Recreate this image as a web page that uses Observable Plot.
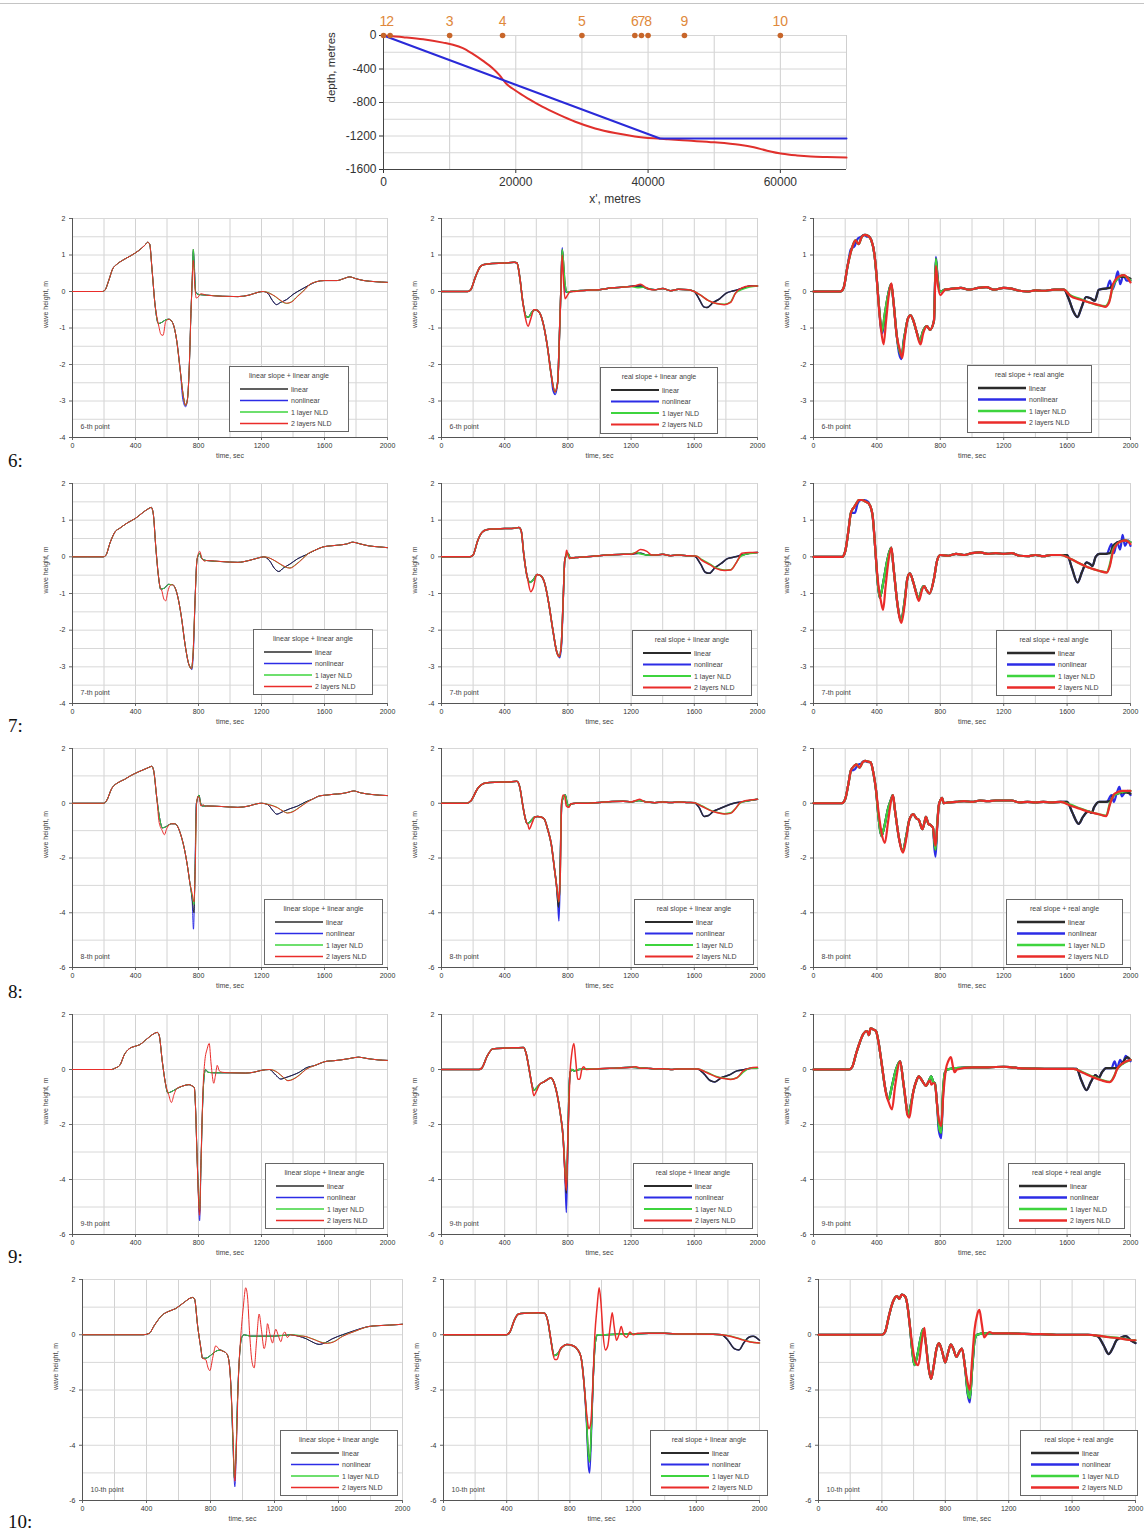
<!DOCTYPE html>
<html>
<head>
<meta charset="utf-8">
<script src="https://cdn.jsdelivr.net/npm/d3@7"></script>
<script src="https://cdn.jsdelivr.net/npm/@observablehq/plot@0.6"></script>
<style>
  html, body { margin: 0; padding: 0; background: #fff; }
  #root { position: relative; width: 1144px; height: 1535px; overflow: hidden; background: #fff; font-family: "Liberation Sans", Arial, sans-serif; }
  .rowlab { position: absolute; font-family: "Liberation Serif", "DejaVu Serif", serif; font-size: 19px; color: #111; }
</style>
</head>
<body>
<div id="root"></div>
<script>
// ---------------- DATA ----------------
// Top chart: bathymetry profiles
const profileLinearX = [0, 41800, 70000];
const profileLinearY = [0, -1230, -1230];
const profileRealX = [0, 3000, 6000, 9000, 10500, 12000, 13500, 15000, 16500, 17500, 18500, 20000, 22000, 24000, 26500, 29000, 32000, 35000, 38000, 40800, 43000, 46000, 50000, 53800, 56000, 58000, 60300, 62500, 64600, 67000, 70000];
const profileRealY = [0, -20, -45, -85, -110, -150, -220, -300, -390, -470, -570, -660, -760, -850, -945, -1030, -1110, -1165, -1205, -1228, -1240, -1255, -1275, -1305, -1335, -1375, -1412, -1432, -1445, -1452, -1458];
const gaugeX = [0, 1000, 10000, 18000, 30000, 38000, 39000, 40000, 45500, 60000];
const gaugeLabels = ["1", "2", "3", "4", "5", "6", "7", "8", "9", "10"];

// Panels: categories
const rowLabels = ["6:", "7:", "8:", "9:", "10:"];
const pointNames = ["6-th point", "7-th point", "8-th point", "9-th point", "10-th point"];
const legendTitles = ["linear slope + linear angle", "real slope + linear angle", "real slope + real angle"];
const seriesNames = ["linear", "nonlinear", "1 layer NLD", "2 layers NLD"];
const timeTicks = [0, 400, 800, 1200, 1600, 2000];

// Each panel: linear series [t, height], then segments where other series differ from it
// ---- 6-th point ----
const r6a_linear = [[0,0],[190,0],[205,0.03],[230,0.3],[255,0.62],[280,0.74],[320,0.86],[370,0.98],[420,1.12],[460,1.27],[478,1.35],[490,1.3],[505,0.6],[525,-0.4],[545,-0.88],[565,-0.85],[590,-0.78],[612,-0.76],[635,-0.85],[660,-1.3],[685,-2.2],[705,-2.9],[718,-3.12],[730,-2.95],[742,-2.0],[752,-0.6],[760,0.3],[767,1.15],[774,0.6],[782,-0.02],[800,-0.08],[850,-0.1],[950,-0.13],[1050,-0.14],[1120,-0.1],[1180,-0.02],[1210,0],[1240,-0.05],[1270,-0.25],[1295,-0.36],[1320,-0.3],[1360,-0.22],[1400,-0.08],[1450,0.05],[1500,0.17],[1550,0.27],[1600,0.3],[1680,0.3],[1720,0.35],[1760,0.4],[1800,0.35],[1850,0.3],[1920,0.27],[2000,0.25]];
const r6a_nonlinear = [[[700,-2.95],[718,-3.16],[730,-2.95]], [[760,0.3],[767,1.1],[774,0.7],[782,0.0]]];
const r6a_nld1 = [[[1210,0],[1250,-0.04],[1290,-0.15],[1330,-0.28],[1360,-0.33],[1390,-0.28],[1430,-0.12],[1480,0.08],[1500,0.17]]];
const r6a_nld2 = [[[530,-0.55],[548,-0.95],[562,-1.18],[575,-1.2],[592,-0.82]], [[760,0.3],[767,0.85],[776,0.2],[786,-0.18],[798,-0.15],[815,-0.06]], [[1210,0],[1250,-0.05],[1290,-0.14],[1330,-0.27],[1360,-0.32],[1390,-0.29],[1430,-0.13],[1480,0.07],[1500,0.17]]];

const r6b_linear = [[0,0],[165,0],[185,0.05],[215,0.4],[245,0.68],[270,0.74],[320,0.77],[400,0.78],[460,0.8],[478,0.78],[495,0.4],[515,-0.3],[535,-0.68],[550,-0.7],[575,-0.55],[595,-0.5],[620,-0.58],[645,-0.9],[670,-1.5],[695,-2.3],[718,-2.75],[735,-2.5],[748,-1.0],[756,0.1],[764,1.15],[772,0.8],[782,0.2],[795,-0.02],[820,0.0],[900,0.03],[1000,0.05],[1080,0.1],[1150,0.12],[1220,0.15],[1260,0.15],[1300,0.08],[1350,0.05],[1400,0.08],[1450,0.02],[1500,0.06],[1560,0.05],[1600,0.0],[1630,-0.2],[1660,-0.42],[1680,-0.44],[1720,-0.3],[1760,-0.2],[1800,-0.05],[1850,0.02],[1900,0.08],[1950,0.15],[2000,0.15]];
const r6b_nonlinear = [[[705,-2.7],[720,-2.82],[735,-2.5]], [[756,0.1],[764,1.2],[772,0.6],[782,0.0]]];
const r6b_nld1 = [[[1200,0.14],[1240,0.1],[1280,0.12]], [[1600,0],[1640,-0.1],[1690,-0.25],[1740,-0.33],[1790,-0.35],[1830,-0.28],[1860,-0.05],[1900,0.05],[1950,0.12]]];
const r6b_nld2 = [[[530,-0.7],[548,-0.95],[565,-0.75],[585,-0.5]], [[756,0.1],[764,1.0],[772,0.3],[782,-0.2],[795,-0.12],[815,0.0]], [[1220,0.15],[1260,0.2],[1290,0.12],[1330,0.05]], [[1600,0],[1640,-0.1],[1690,-0.25],[1740,-0.33],[1790,-0.36],[1830,-0.3],[1860,-0.05],[1900,0.1],[1950,0.15]]];

const r6c_linear = [[0,0],[170,0],[190,0.1],[215,0.7],[240,1.15],[265,1.4],[285,1.3],[305,1.5],[325,1.55],[345,1.52],[365,1.4],[385,1.0],[400,0.3],[415,-0.5],[432,-1.1],[450,-0.6],[470,-0.1],[490,0.2],[505,-0.3],[525,-1.2],[555,-1.75],[575,-1.2],[595,-0.75],[612,-0.65],[630,-0.8],[650,-1.1],[672,-1.35],[690,-1.1],[715,-0.95],[735,-1.05],[760,-0.8],[772,0.9],[782,0.4],[800,0.0],[830,0.05],[880,0.08],[930,0.1],[980,0.05],[1040,0.1],[1090,0.12],[1140,0.05],[1200,0.1],[1250,0.08],[1300,0.02],[1350,0],[1400,0.03],[1450,0.02],[1520,0.05],[1580,0.05],[1610,-0.2],[1640,-0.55],[1665,-0.7],[1690,-0.45],[1720,-0.15],[1745,-0.18],[1775,-0.25],[1800,0.05],[1840,0.08],[1870,0.1],[1900,0.25],[1930,0.4],[1970,0.4],[2000,0.35]];
const r6c_nonlinear = [[[235,1.15],[260,1.25],[280,1.45],[300,1.5],[320,1.55],[340,1.5]], [[420,-0.8],[434,-1.15],[450,-0.7]], [[540,-1.7],[555,-1.85],[570,-1.3]], [[760,-0.8],[772,0.95],[782,0.45]], [[1850,0.08],[1870,0.3],[1885,0.05],[1900,0.2],[1920,0.55],[1935,0.2],[1955,0.45],[1975,0.3],[2000,0.3]]];
const r6c_nld1 = [[[1580,0.05],[1620,-0.1],[1680,-0.2],[1740,-0.3],[1800,-0.38],[1840,-0.4],[1870,-0.2],[1890,0.15],[1920,0.35],[1950,0.45],[2000,0.3]]];
const r6c_nld2 = [[[395,0.6],[410,-0.3],[425,-1.0],[442,-1.45],[458,-0.8],[475,-0.1],[492,0.22]], [[545,-1.6],[560,-1.82],[575,-1.3]], [[655,-1.2],[675,-1.45],[692,-1.15]], [[760,-0.8],[772,0.7],[784,0.2],[800,-0.1],[820,0.0]], [[1580,0.05],[1620,-0.12],[1680,-0.22],[1740,-0.3],[1800,-0.37],[1840,-0.42],[1865,-0.3],[1890,0.2],[1930,0.42],[1960,0.45],[2000,0.25]]];

// ---- 7-th point ----
const r7a_linear = [[0,0],[195,0],[210,0.03],[240,0.4],[270,0.68],[300,0.78],[350,0.93],[400,1.05],[450,1.22],[485,1.32],[500,1.35],[512,1.2],[530,0.2],[545,-0.5],[560,-0.88],[585,-0.85],[610,-0.75],[635,-0.76],[660,-0.95],[690,-1.6],[715,-2.4],[740,-2.95],[755,-3.05],[766,-2.6],[778,-1.2],[790,-0.1],[800,0.05],[808,0.1],[820,-0.05],[850,-0.1],[950,-0.13],[1050,-0.15],[1120,-0.1],[1180,-0.03],[1215,0],[1250,-0.1],[1285,-0.33],[1310,-0.4],[1340,-0.3],[1380,-0.2],[1430,-0.05],[1480,0.05],[1540,0.18],[1590,0.27],[1640,0.3],[1690,0.32],[1740,0.35],[1780,0.4],[1820,0.36],[1880,0.3],[1950,0.27],[2000,0.25]];
const r7a_nonlinear = [[[745,-2.98],[757,-3.08],[768,-2.6]]];
const r7a_nld1 = [[[1215,0],[1260,-0.05],[1310,-0.18],[1350,-0.28],[1380,-0.3],[1420,-0.2],[1460,-0.05],[1500,0.1],[1540,0.18]]];
const r7a_nld2 = [[[565,-0.9],[580,-1.15],[592,-1.2],[605,-0.95],[620,-0.78]], [[790,-0.1],[800,0.1],[808,0.15],[820,-0.02],[840,-0.12]], [[1215,0],[1260,-0.05],[1310,-0.17],[1350,-0.27],[1380,-0.31],[1420,-0.21],[1460,-0.06],[1500,0.1],[1540,0.18]]];

const r7b_linear = [[0,0],[180,0],[200,0.05],[230,0.45],[255,0.66],[285,0.74],[330,0.76],[400,0.77],[460,0.78],[490,0.8],[505,0.7],[520,0.1],[540,-0.5],[560,-0.7],[585,-0.6],[605,-0.48],[630,-0.52],[655,-0.75],[680,-1.3],[705,-2.0],[730,-2.6],[745,-2.72],[758,-2.4],[770,-1.2],[780,-0.1],[790,0.05],[800,0.1],[815,-0.03],[850,-0.02],[920,0.0],[1000,0.03],[1080,0.06],[1150,0.07],[1210,0.08],[1260,0.1],[1300,0.05],[1350,0.05],[1400,0.07],[1450,0.03],[1500,0.05],[1560,0.03],[1600,0.02],[1640,-0.2],[1670,-0.42],[1695,-0.45],[1730,-0.3],[1770,-0.18],[1810,-0.05],[1860,0.0],[1900,0.05],[1950,0.1],[2000,0.12]];
const r7b_nonlinear = [[[735,-2.65],[748,-2.75],[760,-2.4]]];
const r7b_nld1 = [[[1200,0.08],[1230,0.12],[1260,0.08]], [[1610,0.02],[1650,-0.08],[1700,-0.2],[1740,-0.3],[1790,-0.36],[1830,-0.35],[1860,-0.2],[1890,0.0],[1930,0.08],[1970,0.1]]];
const r7b_nld2 = [[[545,-0.6],[565,-0.95],[580,-0.85],[600,-0.5]], [[785,0.0],[792,0.18],[800,0.05],[812,-0.05]], [[1230,0.12],[1260,0.2],[1300,0.15],[1330,0.05]], [[1610,0.02],[1650,-0.1],[1700,-0.22],[1740,-0.32],[1790,-0.37],[1830,-0.36],[1860,-0.2],[1880,-0.05],[1900,0.1],[1950,0.12],[2000,0.12]]];

const r7c_linear = [[0,0],[180,0],[200,0.15],[220,0.7],[236,1.2],[255,1.35],[270,1.45],[285,1.55],[305,1.55],[330,1.5],[350,1.45],[372,1.15],[390,0.2],[405,-0.7],[418,-1.12],[440,-0.7],[465,-0.1],[490,0.25],[505,-0.3],[530,-1.3],[552,-1.75],[575,-1.2],[592,-0.6],[608,-0.45],[630,-0.7],[650,-1.0],[664,-1.15],[685,-0.85],[698,-0.8],[715,-0.92],[732,-1.0],[760,-0.6],[780,-0.1],[800,0.05],[850,0.03],[900,0.08],[950,0.05],[1000,0.1],[1050,0.12],[1100,0.08],[1150,0.1],[1200,0.08],[1250,0.1],[1300,0.03],[1350,0.02],[1400,0.05],[1450,0.02],[1500,0.05],[1560,0.05],[1600,0.05],[1630,-0.3],[1666,-0.7],[1695,-0.4],[1723,-0.15],[1745,-0.2],[1760,-0.25],[1780,0.0],[1805,0.08],[1840,0.08],[1870,0.1],[1890,0.3],[1920,0.4],[1960,0.45],[2000,0.4]];
const r7c_nonlinear = [[[240,1.2],[262,1.2],[278,1.45],[300,1.55],[320,1.55],[345,1.5]], [[1850,0.08],[1880,0.35],[1895,0.1],[1915,0.4],[1935,0.2],[1950,0.6],[1965,0.3],[1985,0.45],[2000,0.3]]];
const r7c_nld1 = [[[1560,0.05],[1620,-0.05],[1680,-0.18],[1740,-0.3],[1800,-0.38],[1850,-0.42],[1870,-0.2],[1890,0.2],[1930,0.4],[1970,0.45],[2000,0.4]]];
const r7c_nld2 = [[[395,-0.1],[410,-0.8],[425,-1.2],[439,-1.45],[455,-0.8],[475,-0.05],[492,0.25]], [[540,-1.6],[555,-1.8],[575,-1.3]], [[648,-1.0],[665,-1.2],[685,-0.9]], [[1560,0.05],[1620,-0.05],[1680,-0.18],[1740,-0.3],[1800,-0.38],[1850,-0.43],[1870,-0.25],[1890,0.15],[1930,0.4],[1970,0.45],[2000,0.35]]];

// ---- 8-th point ----
const r8a_linear = [[0,0],[197,0],[215,0.08],[250,0.55],[288,0.75],[330,0.87],[367,1.0],[420,1.15],[481,1.3],[503,1.35],[515,1.2],[535,0.2],[555,-0.6],[571,-0.9],[595,-0.85],[628,-0.75],[650,-0.75],[662,-0.8],[690,-1.2],[715,-1.8],[730,-2.3],[745,-2.9],[760,-3.5],[771,-4.0],[778,-2.5],[787,0.0],[795,0.2],[803,0.3],[812,0.05],[821,-0.1],[850,-0.1],[950,-0.12],[1050,-0.15],[1120,-0.1],[1170,-0.02],[1200,0.0],[1240,-0.05],[1270,-0.25],[1297,-0.4],[1330,-0.32],[1380,-0.2],[1430,-0.1],[1480,0.05],[1524,0.15],[1570,0.27],[1615,0.3],[1660,0.33],[1706,0.35],[1750,0.4],[1785,0.45],[1830,0.38],[1900,0.32],[2000,0.28]];
const r8a_nonlinear = [[[760,-3.6],[768,-4.6],[776,-3.0],[786,0.0]]];
const r8a_nld1 = [[[760,-3.4],[771,-3.7],[780,-2.0]], [[1200,0],[1250,-0.05],[1300,-0.15],[1340,-0.3],[1365,-0.35],[1400,-0.3],[1440,-0.15],[1490,0.05],[1524,0.15]]];
const r8a_nld2 = [[[550,-0.7],[570,-1.0],[583,-1.15],[600,-0.9],[628,-0.75]], [[760,-3.3],[771,-3.6],[780,-2.2],[788,0.0],[797,0.25],[805,0.2],[815,-0.1],[830,-0.05],[845,-0.12]], [[1200,0],[1250,-0.06],[1300,-0.16],[1340,-0.3],[1365,-0.36],[1400,-0.31],[1440,-0.16],[1490,0.04],[1524,0.15]]];

const r8b_linear = [[0,0],[160,0],[185,0.08],[230,0.55],[280,0.74],[350,0.77],[420,0.78],[477,0.8],[495,0.6],[515,-0.1],[530,-0.55],[542,-0.75],[565,-0.65],[590,-0.5],[608,-0.48],[630,-0.5],[651,-0.58],[672,-0.95],[695,-1.5],[715,-2.4],[728,-3.0],[740,-3.8],[748,-3.0],[755,-1.2],[761,0.0],[770,0.2],[783,0.3],[795,0.0],[804,-0.1],[820,-0.03],[850,0.0],[900,0.0],[1000,0.03],[1080,0.06],[1150,0.07],[1200,0.05],[1250,0.1],[1300,0.05],[1350,0.02],[1400,0.05],[1450,0.03],[1500,0.05],[1560,0.03],[1600,0.02],[1630,-0.15],[1662,-0.48],[1690,-0.45],[1720,-0.3],[1760,-0.2],[1800,-0.1],[1850,0.0],[1900,0.05],[1950,0.1],[2000,0.15]];
const r8b_nonlinear = [[[735,-3.5],[743,-4.3],[750,-3.0]]];
const r8b_nld1 = [[[735,-3.3],[743,-3.6],[752,-2.5]], [[1600,0.02],[1650,-0.1],[1700,-0.25],[1740,-0.33],[1790,-0.38],[1830,-0.35],[1860,-0.2],[1890,0.0],[1930,0.08],[1970,0.12]]];
const r8b_nld2 = [[[545,-0.75],[555,-0.95],[575,-0.7],[590,-0.5]], [[735,-3.3],[743,-3.6],[752,-2.5],[760,0.0],[770,0.3],[780,0.25],[790,-0.1],[805,-0.15],[820,-0.02]], [[1230,0.1],[1255,0.15],[1290,0.05]], [[1600,0.02],[1650,-0.12],[1700,-0.26],[1740,-0.34],[1790,-0.39],[1830,-0.37],[1860,-0.2],[1890,0.02],[1930,0.1],[1970,0.13]]];

const r8c_linear = [[0,0],[180,0],[200,0.15],[220,0.7],[236,1.2],[255,1.35],[270,1.42],[290,1.3],[310,1.5],[327,1.55],[345,1.52],[360,1.5],[378,1.1],[394,0.5],[410,-0.5],[428,-1.2],[445,-0.9],[470,-0.2],[490,0.15],[500,0.3],[515,-0.3],[540,-1.3],[563,-1.75],[585,-1.2],[605,-0.6],[630,-0.4],[648,-0.55],[664,-0.6],[687,-0.95],[700,-0.7],[709,-0.5],[725,-0.75],[739,-0.8],[754,-0.9],[762,-1.4],[770,-1.7],[780,-0.8],[790,-0.1],[800,0.1],[811,0.2],[822,0.0],[850,0.03],[900,0.05],[950,0.08],[1000,0.05],[1050,0.1],[1100,0.08],[1150,0.1],[1200,0.1],[1250,0.1],[1300,0.03],[1350,0.05],[1400,0.03],[1450,0.05],[1500,0.03],[1560,0.05],[1600,0.05],[1630,-0.3],[1673,-0.75],[1700,-0.5],[1734,-0.3],[1755,-0.35],[1770,-0.15],[1802,0.05],[1840,0.05],[1870,0.08],[1892,0.3],[1920,0.35],[1960,0.4],[2000,0.35]];
const r8c_nonlinear = [[[240,1.2],[262,1.25],[280,1.4],[300,1.45],[320,1.55],[345,1.5]], [[754,-0.9],[762,-1.6],[770,-1.95],[780,-0.9]], [[1850,0.05],[1880,0.3],[1895,0.05],[1912,0.35],[1930,0.6],[1945,0.25],[1965,0.4],[1982,0.45],[2000,0.3]]];
const r8c_nld1 = [[[1560,0.05],[1620,-0.05],[1680,-0.18],[1740,-0.3],[1800,-0.4],[1847,-0.45],[1870,0.0],[1900,0.3],[1940,0.4],[2000,0.45]]];
const r8c_nld2 = [[[392,0.6],[412,-0.4],[430,-1.1],[450,-1.45],[470,-0.7],[490,0.1],[502,0.3]], [[550,-1.6],[565,-1.8],[585,-1.3]], [[754,-0.9],[762,-1.3],[770,-1.55],[780,-0.9]], [[1560,0.05],[1620,-0.08],[1680,-0.2],[1740,-0.32],[1800,-0.4],[1847,-0.47],[1870,-0.05],[1900,0.35],[1950,0.45],[2000,0.45]]];

// ---- 9-th point ----
const r9a_linear = [[0,0],[250,0],[270,0.05],[300,0.15],[330,0.55],[359,0.75],[400,0.85],[426,0.9],[470,1.1],[516,1.3],[538,1.35],[550,1.25],[570,0.3],[590,-0.5],[605,-0.85],[630,-0.8],[661,-0.7],[700,-0.6],[740,-0.55],[760,-0.6],[773,-0.65],[782,-1.5],[790,-3.0],[800,-4.6],[807,-5.2],[815,-3.5],[825,-1.5],[835,-0.3],[845,0.0],[860,-0.1],[900,-0.12],[1000,-0.12],[1100,-0.13],[1150,-0.1],[1200,-0.03],[1250,0.0],[1290,-0.2],[1323,-0.35],[1350,-0.3],[1400,-0.2],[1440,-0.1],[1480,0.05],[1540,0.15],[1614,0.3],[1660,0.32],[1704,0.35],[1760,0.4],[1816,0.45],[1870,0.4],[1940,0.35],[2000,0.33]];
const r9a_nonlinear = [[[795,-3.8],[807,-5.5],[816,-3.5]]];
const r9a_nld1 = [[[795,-3.8],[807,-5.1],[816,-3.5]], [[1250,0],[1300,-0.1],[1340,-0.3],[1368,-0.4],[1400,-0.35],[1440,-0.2],[1480,0.0],[1540,0.15]]];
const r9a_nld2 = [[[590,-0.5],[610,-0.9],[628,-1.2],[645,-0.9],[661,-0.7]], [[795,-3.9],[807,-5.3],[815,-3.6],[828,-0.8],[840,0.3],[855,0.75],[868,0.95],[880,0.2],[897,-0.5],[908,-0.2],[919,0.15],[932,-0.05],[950,-0.1]], [[1250,0],[1300,-0.1],[1340,-0.29],[1368,-0.41],[1400,-0.36],[1440,-0.21],[1480,-0.01],[1540,0.15]]];

const r9b_linear = [[0,0],[238,0],[255,0.05],[290,0.5],[324,0.75],[400,0.78],[470,0.79],[519,0.8],[535,0.6],[555,0.0],[572,-0.55],[584,-0.75],[605,-0.65],[630,-0.5],[649,-0.45],[675,-0.35],[692,-0.3],[710,-0.45],[735,-1.0],[752,-1.6],[770,-2.5],[782,-3.8],[790,-4.5],[798,-3.0],[806,-1.0],[815,-0.1],[825,0.0],[840,-0.05],[870,0.0],[900,0.02],[1000,0.03],[1100,0.05],[1200,0.08],[1250,0.06],[1300,0.05],[1350,0.02],[1400,0.03],[1450,0.0],[1500,0.02],[1560,0.02],[1620,0.02],[1660,-0.15],[1700,-0.4],[1730,-0.45],[1770,-0.3],[1820,-0.2],[1870,-0.05],[1920,0.0],[1960,0.05],[2000,0.05]];
const r9b_nonlinear = [[[782,-3.9],[790,-5.2],[799,-3.0]]];
const r9b_nld1 = [[[782,-3.6],[790,-4.3],[799,-2.8]], [[1620,0.02],[1680,-0.1],[1740,-0.25],[1790,-0.32],[1830,-0.35],[1870,-0.3],[1910,-0.1],[1950,0.05],[2000,0.05]]];
const r9b_nld2 = [[[570,-0.5],[584,-0.95],[600,-0.8],[620,-0.55]], [[780,-3.6],[790,-4.4],[800,-2.5],[812,-0.3],[825,0.6],[838,0.95],[850,0.3],[862,-0.35],[875,-0.35],[888,0.0],[900,0.1],[915,0.0]], [[1200,0.08],[1230,0.1],[1260,0.05]], [[1620,0.02],[1680,-0.12],[1740,-0.27],[1790,-0.33],[1830,-0.36],[1870,-0.3],[1910,-0.05],[1950,0.05],[2000,0.08]]];

const r9c_linear = [[0,0],[225,0],[245,0.1],[270,0.6],[293,1.0],[315,1.3],[338,1.4],[350,1.25],[360,1.5],[380,1.45],[394,1.4],[410,1.0],[428,0.3],[450,-0.6],[473,-1.1],[495,-0.6],[520,0.0],[547,0.3],[565,-0.4],[585,-1.3],[597,-1.7],[610,-1.4],[630,-0.8],[650,-0.4],[664,-0.25],[690,-0.45],[709,-0.6],[725,-0.45],[743,-0.25],[755,-0.45],[766,-0.5],[780,-1.3],[795,-2.2],[806,-2.3],[815,-1.0],[830,-0.1],[845,0.0],[870,0.03],[900,0.05],[1000,0.08],[1100,0.08],[1200,0.1],[1250,0.08],[1300,0.05],[1400,0.03],[1500,0.02],[1600,0.02],[1660,0.02],[1690,-0.4],[1723,-0.75],[1750,-0.45],[1779,-0.2],[1800,-0.3],[1820,-0.1],[1847,0.05],[1880,0.05],[1915,0.05],[1950,0.25],[1980,0.45],[2000,0.35]];
const r9c_nonlinear = [[[790,-2.2],[806,-2.5],[815,-1.2]], [[1880,0.05],[1900,0.3],[1915,0.05],[1935,0.35],[1950,0.2],[1970,0.5],[1985,0.4],[2000,0.3]]];
const r9c_nld1 = [[[1640,0.02],[1700,-0.1],[1760,-0.25],[1820,-0.38],[1869,-0.45],[1900,-0.2],[1914,0.0],[1950,0.2],[2000,0.35]]];
const r9c_nld2 = [[[455,-0.8],[475,-1.2],[495,-1.45],[515,-0.6],[547,0.3]], [[590,-1.6],[605,-1.75],[620,-1.2]], [[735,-0.4],[743,-0.55],[755,-0.5]], [[790,-1.8],[806,-2.05],[818,-1.0],[835,0.0],[850,0.3],[867,0.45],[880,0.1],[890,-0.1],[905,0.0]], [[1640,0.02],[1700,-0.12],[1760,-0.27],[1820,-0.4],[1869,-0.46],[1900,-0.22],[1914,0.0],[1950,0.22],[2000,0.35]]];

// ---- 10-th point ----
const r10a_linear = [[0,0],[380,0],[417,0.05],[450,0.35],[500,0.72],[540,0.85],[583,0.95],[630,1.15],[688,1.35],[700,1.3],[720,0.3],[740,-0.5],[750,-0.85],[770,-0.85],[800,-0.75],[833,-0.6],[860,-0.55],[880,-0.6],[896,-0.65],[910,-0.8],[927,-1.8],[940,-3.8],[950,-5.2],[958,-4.5],[968,-2.5],[979,-1.0],[995,-0.1],[1010,0.0],[1050,-0.05],[1100,-0.05],[1200,-0.05],[1300,0.0],[1350,-0.05],[1400,-0.15],[1450,-0.3],[1479,-0.35],[1520,-0.28],[1560,-0.15],[1625,0.0],[1700,0.15],[1791,0.3],[1850,0.33],[1920,0.35],[2000,0.38]];
const r10a_nonlinear = [[[940,-3.9],[952,-5.5],[960,-4.5]]];
const r10a_nld1 = [[[1300,0.0],[1380,-0.05],[1440,-0.15],[1500,-0.28],[1531,-0.3],[1570,-0.25],[1625,-0.05],[1700,0.12]]];
const r10a_nld2 = [[[770,-0.9],[785,-1.2],[796,-1.3],[815,-0.8],[833,-0.4],[850,-0.5]], [[940,-3.5],[952,-5.3],[962,-4.0],[975,-1.5],[990,0.0],[1005,1.0],[1020,1.7],[1031,1.4],[1045,0.0],[1060,-1.0],[1073,-1.2],[1088,-0.2],[1104,0.75],[1118,0.2],[1135,-0.5],[1147,-0.2],[1156,0.4],[1172,0.0],[1188,-0.3],[1198,0.0],[1208,0.2],[1222,0.0],[1240,-0.25],[1252,0.0],[1265,0.1],[1280,-0.1],[1300,0.0]], [[1380,-0.05],[1440,-0.16],[1500,-0.29],[1531,-0.31],[1570,-0.26],[1625,-0.06],[1700,0.12]]];

const r10b_linear = [[0,0],[400,0],[420,0.1],[450,0.55],[475,0.75],[520,0.78],[600,0.8],[640,0.78],[660,0.5],[680,-0.2],[700,-0.75],[720,-0.7],[750,-0.45],[780,-0.35],[820,-0.4],[850,-0.55],[870,-0.8],[890,-1.8],[905,-3.0],[915,-4.2],[925,-4.6],[935,-3.5],[948,-1.5],[960,-0.3],[975,0.0],[1000,0.0],[1100,0.02],[1200,0.03],[1300,0.05],[1400,0.05],[1500,0.03],[1600,0.03],[1700,0.02],[1760,0.0],[1800,-0.2],[1840,-0.5],[1870,-0.55],[1900,-0.3],[1930,-0.1],[1960,-0.05],[2000,-0.2]];
const r10b_nonlinear = [[[905,-3.2],[918,-4.8],[925,-5.0],[935,-3.8]]];
const r10b_nld1 = [[[1760,0.0],[1820,-0.05],[1880,-0.15],[1940,-0.25],[2000,-0.3]]];
const r10b_nld2 = [[[690,-0.6],[705,-0.9],[718,-0.9],[740,-0.5]], [[905,-2.8],[920,-3.4],[932,-3.2],[945,-1.8],[958,0.0],[972,1.0],[985,1.7],[996,1.2],[1010,0.0],[1025,-0.55],[1040,-0.4],[1055,0.3],[1068,0.8],[1080,0.3],[1095,-0.2],[1110,0.0],[1125,0.3],[1140,0.0],[1160,-0.1],[1180,0.1],[1200,0.0],[1230,0.05]], [[1760,0.0],[1820,-0.06],[1880,-0.16],[1940,-0.26],[2000,-0.3]]];

const r10c_linear = [[0,0],[400,0],[420,0.1],[445,0.7],[470,1.2],[495,1.4],[510,1.3],[525,1.45],[545,1.4],[560,1.1],[575,0.4],[590,-0.5],[605,-1.1],[625,-0.7],[645,-0.1],[660,0.2],[675,-0.2],[695,-1.2],[710,-1.6],[725,-1.2],[745,-0.5],[760,-0.3],[780,-0.6],[800,-1.0],[815,-0.7],[835,-0.35],[850,-0.5],[870,-0.8],[890,-0.6],[905,-0.5],[925,-1.2],[945,-2.2],[955,-2.3],[970,-1.2],[985,-0.2],[1000,0.0],[1050,0.05],[1100,0.05],[1200,0.05],[1300,0.03],[1400,0.02],[1500,0.0],[1600,0.0],[1700,0.0],[1760,-0.05],[1800,-0.4],[1830,-0.7],[1855,-0.5],[1880,-0.2],[1910,-0.1],[1940,-0.05],[1970,-0.2],[2000,-0.3]];
const r10c_nonlinear = [[[940,-2.1],[955,-2.45],[968,-1.3]]];
const r10c_nld1 = [[[1760,-0.03],[1830,-0.08],[1900,-0.12],[1960,-0.18],[2000,-0.2]]];
const r10c_nld2 = [[[590,-0.3],[612,-1.0],[630,-1.1],[650,-0.3],[668,0.25]], [[940,-1.7],[955,-2.0],[968,-1.0],[985,0.2],[1000,0.7],[1015,0.9],[1030,0.4],[1045,-0.1],[1060,0.0],[1080,0.1],[1100,0.05]], [[1760,-0.03],[1830,-0.09],[1900,-0.13],[1960,-0.19],[2000,-0.2]]];

// ---------------- LAYOUT / STYLE ----------------
const seriesColors = ["#2b2b2b", "#2c2ce6", "#3ed43e", "#ea2c2a"];
const drawOrder = [1, 0, 2, 3]; // nonlinear underneath, then linear, 1 layer, 2 layers
const colWidths = [1.0, 1.5, 2.2];
const panelData = [
  [[r6a_linear, r6a_nonlinear, r6a_nld1, r6a_nld2], [r6b_linear, r6b_nonlinear, r6b_nld1, r6b_nld2], [r6c_linear, r6c_nonlinear, r6c_nld1, r6c_nld2]],
  [[r7a_linear, r7a_nonlinear, r7a_nld1, r7a_nld2], [r7b_linear, r7b_nonlinear, r7b_nld1, r7b_nld2], [r7c_linear, r7c_nonlinear, r7c_nld1, r7c_nld2]],
  [[r8a_linear, r8a_nonlinear, r8a_nld1, r8a_nld2], [r8b_linear, r8b_nonlinear, r8b_nld1, r8b_nld2], [r8c_linear, r8c_nonlinear, r8c_nld1, r8c_nld2]],
  [[r9a_linear, r9a_nonlinear, r9a_nld1, r9a_nld2], [r9b_linear, r9b_nonlinear, r9b_nld1, r9b_nld2], [r9c_linear, r9c_nonlinear, r9c_nld1, r9c_nld2]],
  [[r10a_linear, r10a_nonlinear, r10a_nld1, r10a_nld2], [r10b_linear, r10b_nonlinear, r10b_nld1, r10b_nld2], [r10c_linear, r10c_nonlinear, r10c_nld1, r10c_nld2]]
];
const colPx = [[[72,387],[441,757],[813,1130]], [[72,387],[441,757],[813,1130]], [[72,387],[441,757],[813,1130]], [[72,387],[441,757],[813,1130]], [[82,402],[443,759],[818,1135]]];
const rowPx = [[218,437],[483,703],[748,967],[1014,1234],[1279,1500]];
const legendBoxes = [
  [[229,366,120,66],[600,367,118,67],[967,365,125,68]],
  [[253,629,120,66],[632,630,120,66],[996,630,116,66]],
  [[264,899,119,66],[634,899,120,66],[1006,899,117,66]],
  [[265,1163,119,66],[633,1163,120,66],[1008,1163,117,66]],
  [[280,1430,118,66],[650,1430,118,66],[1020,1430,118,66]]
];
const rowLabelY = [462, 727, 993, 1258, 1523];

const root = document.getElementById("root");
const topLine = document.createElement("div");
topLine.style.cssText = "position:absolute;left:0;top:3px;width:1144px;height:1px;background:#c4c4c4";
root.appendChild(topLine);

function merge(base, segs) {
  let pts = base.slice();
  for (const seg of segs) {
    const lo = seg[0][0], hi = seg[seg.length - 1][0];
    pts = pts.filter(p => p[0] < lo || p[0] > hi).concat(seg);
    pts.sort((a, b) => a[0] - b[0]);
  }
  return pts;
}

// ---------------- TOP CHART ----------------
{
  const linRows = profileLinearX.map((x, i) => ({x, y: profileLinearY[i]}));
  const realRows = profileRealX.map((x, i) => ({x, y: profileRealY[i]}));
  const gauges = gaugeX.map((x, i) => ({x, label: gaugeLabels[i]}));
  const L = 300, T = 8, x0 = 383, x1 = 846, y0 = 35, y1 = 169;
  const mL = x0 - L, mT = y0 - T, mR = 12, mB = 40;
  const svg = Plot.plot({
    width: x1 - x0 + mL + mR, height: y1 - y0 + mT + mB,
    marginLeft: mL, marginRight: mR, marginTop: mT, marginBottom: mB,
    x: {domain: [0, 70000]},
    y: {domain: [-1600, 0]},
    style: {fontFamily: "Liberation Sans, Arial, sans-serif", fontSize: "12px", color: "#333", background: "transparent", overflow: "visible"},
    marks: [
      Plot.gridX(d3.range(0, 70001, 10000), {stroke: "#cfcfcf", strokeOpacity: 1}),
      Plot.gridY(d3.range(-1600, 1, 200), {stroke: "#d6d6d6", strokeOpacity: 1}),
      Plot.axisX([0, 20000, 40000, 60000], {tickSize: 4, tickPadding: 4, tickFormat: d => String(d), label: null, fontSize: 12}),
      Plot.axisY([0, -400, -800, -1200, -1600], {tickSize: 4, tickPadding: 3, tickFormat: d => String(d), label: null, fontSize: 12}),
      Plot.ruleX([0], {stroke: "#444"}),
      Plot.ruleY([-1600], {stroke: "#444"}),
      Plot.line(realRows, {x: "x", y: "y", stroke: "#e0302c", strokeWidth: 2, curve: "monotone-x"}),
      Plot.line(linRows, {x: "x", y: "y", stroke: "#2a2ad8", strokeWidth: 2}),
      Plot.dot(gauges, {x: "x", y: 0, r: 2.8, fill: "#c8662a", stroke: "none"}),
      Plot.text(gauges, {x: "x", y: 0, text: "label", dy: -14, fill: "#e0883a", fontSize: 14}),
      Plot.text(["x', metres"], {text: d => d, frameAnchor: "bottom", dy: 33, fontSize: 12}),
      Plot.text(["depth, metres"], {text: d => d, frameAnchor: "left", dx: -52, rotate: -90, fontSize: 11.5})
    ]
  });
  svg.style.position = "absolute";
  svg.style.left = L + "px";
  svg.style.top = T + "px";
  root.appendChild(svg);
}

// ---------------- PANELS ----------------
for (let r = 0; r < 5; r++) {
  for (let c = 0; c < 3; c++) {
    const [base, nonSegs, n1Segs, n2Segs] = panelData[r][c];
    const series = [base, merge(base, nonSegs), merge(base, n1Segs), merge(base, n2Segs)];
    const [x0, x1] = colPx[r][c];
    const [y0, y1] = rowPx[r];
    const small = r < 2;
    const ydom = small ? [-4, 2] : [-6, 2];
    const yMajor = small ? d3.range(-4, 2.01, 1) : d3.range(-6, 2.01, 2);
    const yMinor = small ? d3.range(-4, 2.01, 0.5) : d3.range(-6, 2.01, 1);
    const mL = 34, mR = 12, mT = 8, mB = 30;
    const marks = [
      Plot.gridX(d3.range(0, 2001, 200), {stroke: "#d2d2d2", strokeOpacity: 1}),
      Plot.gridY(yMinor, {stroke: "#d8d8d8", strokeOpacity: 1}),
      Plot.axisX(timeTicks, {tickSize: 3, tickPadding: 3, tickFormat: d => String(d), label: null, fontSize: 7, stroke: "#666"}),
      Plot.axisY(yMajor, {tickSize: 3, tickPadding: 4, tickFormat: d => String(d), label: null, fontSize: 7, stroke: "#666"}),
      Plot.ruleX([0], {stroke: "#555"}),
      Plot.ruleY([ydom[0]], {stroke: "#555"})
    ];
    drawOrder.forEach(i => {
      marks.push(Plot.line(series[i], {x: d => d[0], y: d => d[1], stroke: seriesColors[i], strokeWidth: colWidths[c], curve: "monotone-x"}));
    });
    marks.push(
      Plot.text(["time, sec"], {text: d => d, frameAnchor: "bottom", dy: 20, fontSize: 7, fill: "#444"}),
      Plot.text(["wave height, m"], {text: d => d, frameAnchor: "left", dx: -27, rotate: -90, fontSize: 7, fill: "#444"}),
      Plot.text([pointNames[r]], {text: d => d, frameAnchor: "bottom-left", dx: 8, dy: -9, textAnchor: "start", fontSize: 7, fill: "#444"})
    );
    const svg = Plot.plot({
      width: x1 - x0 + mL + mR, height: y1 - y0 + mT + mB,
      marginLeft: mL, marginRight: mR, marginTop: mT, marginBottom: mB,
      x: {domain: [0, 2000]},
      y: {domain: ydom},
      style: {fontFamily: "Liberation Sans, Arial, sans-serif", fontSize: "7px", color: "#333", background: "transparent", overflow: "visible"},
      marks
    });
    svg.style.position = "absolute";
    svg.style.left = (x0 - mL) + "px";
    svg.style.top = (y0 - mT) + "px";
    root.appendChild(svg);

    // legend box
    const [lx, ly, lw, lh] = legendBoxes[r][c];
    const lg = d3.create("svg").attr("width", lw + 2).attr("height", lh + 2)
      .style("position", "absolute").style("left", (lx - 1) + "px").style("top", (ly - 1) + "px")
      .style("font-family", "Liberation Sans, Arial, sans-serif").style("font-size", "7px");
    lg.append("rect").attr("x", 1.5).attr("y", 1.5).attr("width", lw - 1).attr("height", lh - 1)
      .attr("fill", "#fff").attr("stroke", "#666").attr("stroke-width", 1);
    lg.append("text").attr("x", 1 + lw / 2).attr("y", 13).attr("text-anchor", "middle").attr("fill", "#444").text(legendTitles[c]);
    seriesNames.forEach((name, i) => {
      const yy = 24 + i * 11.5;
      lg.append("line").attr("x1", 12).attr("x2", 60).attr("y1", yy).attr("y2", yy)
        .attr("stroke", seriesColors[i]).attr("stroke-width", colWidths[c] + 0.4);
      lg.append("text").attr("x", 63).attr("y", yy + 2.5).attr("fill", "#444").text(name);
    });
    root.appendChild(lg.node());
  }
  const lab = document.createElement("div");
  lab.className = "rowlab";
  lab.textContent = rowLabels[r];
  lab.style.left = "8px";
  lab.style.top = (rowLabelY[r] - 12) + "px";
  root.appendChild(lab);
}
</script>
</body>
</html>
